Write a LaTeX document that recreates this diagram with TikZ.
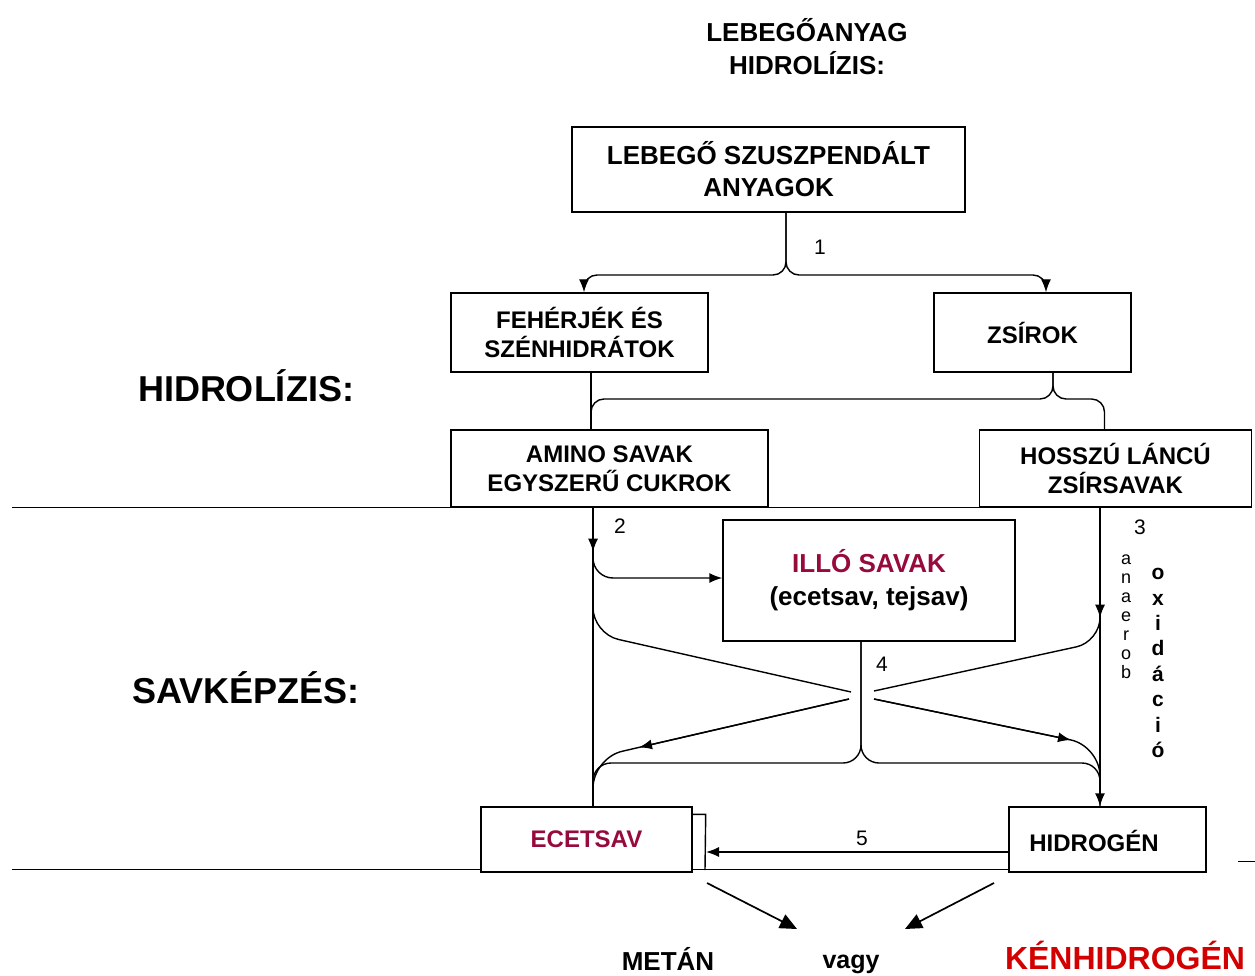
\documentclass[tikz,border=0pt]{standalone}
\usepackage{fontspec}
\setmainfont{Liberation Sans}
\usetikzlibrary{arrows.meta,calc}
\definecolor{illocol}{RGB}{150,10,60}
\definecolor{kenred}{RGB}{210,0,0}
\begin{document}
\begin{tikzpicture}[x=1pt,y=-1pt,
  box/.style={draw, line width=1.4pt, fill=white, inner sep=0pt, align=center, font=\bfseries\fontsize{24}{29}\selectfont},
  con/.style={line width=1.4pt},
  arr/.style={con, -{Latex[length=13pt,width=10pt]}},
  bigarr/.style={line width=1.7pt, -{Triangle[length=17pt,width=15pt]}},
  rule/.style={line width=1pt},
  num/.style={font=\fontsize{21}{24}\selectfont},
  big/.style={font=\bfseries\fontsize{36}{40}\selectfont, anchor=base},
  bot/.style={font=\bfseries\fontsize{26}{30}\selectfont, anchor=base}]
\useasboundingbox[fill=white] (0,0) rectangle (1255,976);

% rules
\draw[rule] (12,507) -- (1252,507);
\draw[rule] (12,869) -- (1206,869);
\draw[rule] (1238,861) -- (1255,861);

% title
\node[bot] (t1) at (807,42) {LEBEGŐANYAG};
\node[bot] (t2) at (807,75) {HIDROLÍZIS:};

% side labels
\node[big] (hidr) at (246,401) {HIDROLÍZIS:};
\node[big] (savk) at (246,703) {SAVKÉPZÉS:};

% boxes
\node[box, font=\bfseries\fontsize{26}{32}\selectfont, minimum width=393pt, minimum height=85pt] (A) at (768.5,169.5) {LEBEGŐ SZUSZPENDÁLT\\ANYAGOK};
\node[box, minimum width=257pt, minimum height=79pt] (B) at (579.5,332.5) {FEHÉRJÉK ÉS\\SZÉNHIDRÁTOK};
\node[box, minimum width=197pt, minimum height=79pt] (C) at (1032.5,332.5) {ZSÍROK};
\node[box, minimum width=317pt, minimum height=77pt] (D) at (609.5,468.5) {AMINO SAVAK\\EGYSZERŰ CUKROK};
\node[box, minimum width=272pt, minimum height=77pt] (E) at (1115.5,468.5) {HOSSZÚ LÁNCÚ\\ZSÍRSAVAK};
\node[box, font=\bfseries\fontsize{26}{33}\selectfont, minimum width=292pt, minimum height=121pt] (G) at (869,580.5) {\textcolor{illocol}{ILLÓ SAVAK}\\(ecetsav, tejsav)};
\node[box, minimum width=211pt, minimum height=65pt, text=illocol] (F) at (586.5,839.5) {ECETSAV};
\node[box, minimum width=197pt, minimum height=65pt] (H) at (1107.5,839.5) {};
\node[font=\bfseries\fontsize{24}{29}\selectfont] (hlab) at (1094,841) {HIDROGÉN};

% ports
\coordinate (aOut) at ([xshift=17.5pt]A.south);
\coordinate (bIn) at ([xshift=4.5pt]B.north);
\coordinate (cIn) at ([xshift=13.5pt]C.north);
\coordinate (j1) at (786,275);
\coordinate (bOut) at ([xshift=11.5pt]B.south);
\coordinate (dIn) at ([xshift=-18.5pt]D.north);
\coordinate (cOut) at ([xshift=20.5pt]C.south);
\coordinate (eIn) at ([xshift=-11pt]E.north);
\coordinate (j2) at (1053,399);
\coordinate (dOut) at ([xshift=-16.5pt]D.south);
\coordinate (fIn) at ([xshift=6.5pt]F.north);
\coordinate (eOut) at ([xshift=-15.5pt]E.south);
\coordinate (hIn) at ([xshift=-7.5pt]H.north);
\coordinate (gOut) at ([xshift=-8pt]G.south);
\coordinate (j4) at (861,763);
\coordinate (x1) at (851,692);
\coordinate (x2) at (874,691);
\coordinate (x3) at (849,699);
\coordinate (x4) at (874,699);
\coordinate (fStub) at (706,852);
\coordinate (m1) at (707,883);
\coordinate (m2) at (797,929);
\coordinate (k1) at (994,883);
\coordinate (k2) at (905,929);

% step 1
\draw[arr, rounded corners=13pt] (aOut) |- (bIn |- j1) -- (bIn);
\draw[arr, rounded corners=13pt] (aOut) |- (cIn |- j1) -- (cIn);

% hydrolysis products
\draw[con] (bOut) -- (dIn);
\draw[con, rounded corners=13pt] (cOut) |- (dIn |- j2) -- (dIn);
\draw[con, rounded corners=13pt] (cOut) |- (eIn |- j2) -- (eIn);

% step 2
\draw[con] (dOut) -- (fIn);
\draw[arr] (dOut) -- ++(0,44);
\draw[arr, rounded corners=20pt] ($(dOut)+(0,48)$) |- ([yshift=2.5pt]G.west);

% step 3
\draw[arr] (eOut) -- (hIn);
\draw[arr] (eOut) -- ++(0,110);

% step 4 crossing
\draw[con, rounded corners=26pt] ($(dOut)+(0,95)$) -- ($(dOut)+(0,126)$) -- (x1);
\draw[con, rounded corners=24pt] ($(eOut)+(0,112)$) -- ($(eOut)+(0,134)$) -- (x2);
\draw[con, rounded corners=30pt] (x3) -- (593,758) -- (593,800);
\draw[arr] (x3) -- (639,747.4);
\draw[con, rounded corners=30pt] (x4) -- (1100,746) -- (1100,790);
\draw[arr] (x4) -- (1071,740);
\draw[con, rounded corners=18pt] (gOut) |- (fIn |- j4) -- (fIn);
\draw[con, rounded corners=18pt] (gOut) |- (hIn |- j4) -- (hIn);

% step 5
\draw[con] ([yshift=-8pt]F.north east) -- ++(13,0) -- (705,870);
\draw[arr] ([yshift=-12.5pt]H.west) -- (fStub);

% final arrows
\draw[bigarr] (m1) -- (m2);
\draw[bigarr] (k1) -- (k2);

% numbers
\node[num] (n1) at (820,247) {1};
\node[num] (n2) at (620,526) {2};
\node[num] (n3) at (1140,527) {3};
\node[num] (n4) at (882,664) {4};
\node[num] (n5) at (862,838) {5};

% vertical words
\node[font=\fontsize{18}{19}\selectfont, align=center, inner sep=0pt] (anaer) at (1126,617) {a\\n\\a\\e\\r\\o\\b};
\node[font=\bfseries\fontsize{21}{25.4}\selectfont, align=center, inner sep=0pt] (oxid) at (1158,663) {o\\x\\i\\d\\á\\c\\i\\ó};

% bottom words
\node[bot] (metan) at (668,970) {METÁN};
\node[bot, font=\bfseries\fontsize{25}{30}\selectfont] (vagy) at (851,968) {vagy};
\node[bot, font=\bfseries\fontsize{32}{36}\selectfont, text=kenred] (ken) at (1125,969) {KÉNHIDROGÉN};
\end{tikzpicture}
\end{document}
